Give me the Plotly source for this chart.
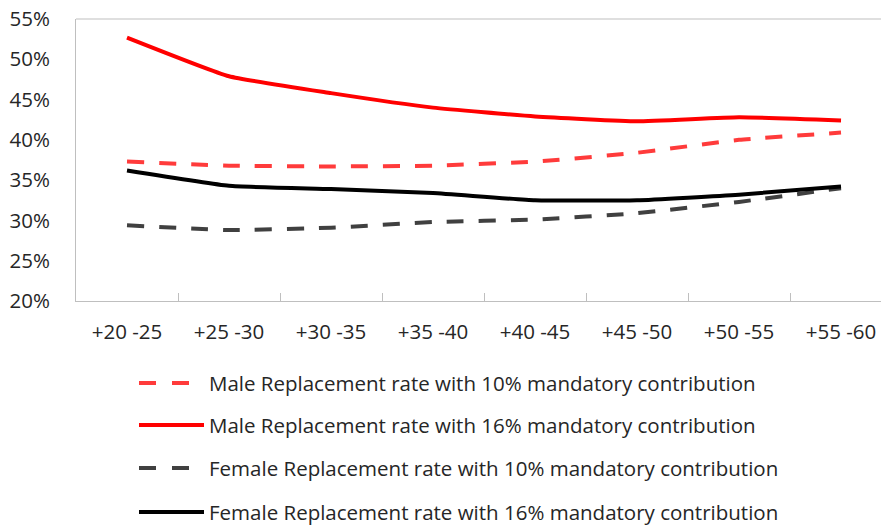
import plotly.graph_objects as go

# Age bands of contribution start
age_bands = ["+20 -25", "+25 -30", "+30 -35", "+35 -40", "+40 -45", "+45 -50", "+50 -55", "+55 -60"]

# Replacement rates (%)
male_10 = [37.3, 36.8, 36.7, 36.8, 37.3, 38.4, 40.0, 40.9]
male_16 = [52.7, 47.9, 45.8, 44.0, 42.9, 42.3, 42.8, 42.4]
female_10 = [29.4, 28.8, 29.1, 29.8, 30.1, 30.9, 32.3, 34.0]
female_16 = [36.2, 34.3, 33.9, 33.4, 32.5, 32.5, 33.2, 34.2]

DASH = "17px,15px"
series = [
    ("Male Replacement rate with 10% mandatory contribution", male_10, "#ff3b3b", DASH),
    ("Male Replacement rate with 16% mandatory contribution", male_16, "#ff0000", "solid"),
    ("Female Replacement rate with 10% mandatory contribution", female_10, "#404040", DASH),
    ("Female Replacement rate with 16% mandatory contribution", female_16, "#000000", "solid"),
]

W, H = 881, 525
ML, MT, MB = 76, 19, 224
plot_w = W - ML
plot_h = H - MT - MB

fig = go.Figure()
for name, vals, color, dash in series:
    fig.add_trace(go.Scatter(
        x=age_bands,
        y=[v / 100 for v in vals],
        name=name,
        mode="lines",
        line=dict(color=color, width=4, dash=dash, shape="spline", smoothing=0.4),
        showlegend=False,
    ))

# Legend below the chart: line sample + label for each series
def px_x(px):
    return (px - ML) / plot_w

def px_y(py):
    return (H - MB - py) / plot_h

legend_rows = [383, 425, 468, 512]
shapes = [
    # top border of the plot area
    dict(type="line", xref="paper", yref="paper", x0=0, x1=1, y0=1, y1=1,
         line=dict(color="#bfbfbf", width=1)),
]
annotations = []
for (name, vals, color, dash), row in zip(series, legend_rows):
    x_end = 190 if dash != "solid" else 204
    shapes.append(dict(
        type="line", xref="paper", yref="paper",
        x0=px_x(139), x1=px_x(x_end), y0=px_y(row), y1=px_y(row),
        line=dict(color=color, width=4, dash="17px,16px" if dash != "solid" else "solid"),
    ))
    annotations.append(dict(
        xref="paper", yref="paper", x=px_x(207), y=px_y(row),
        xanchor="left", yanchor="middle", showarrow=False,
        text=name, font=dict(size=20.5, color="#262626"),
    ))

font_family = "Open Sans, Noto Sans, sans-serif"

fig.update_layout(
    width=W,
    height=H,
    margin=dict(l=ML, r=0, t=MT, b=MB, autoexpand=False),
    paper_bgcolor="white",
    plot_bgcolor="white",
    font=dict(family=font_family, size=20.5, color="#262626"),
    showlegend=False,
    xaxis=dict(
        type="category",
        range=[-0.5, 7.392],
        showgrid=False,
        showline=True,
        linecolor="#bfbfbf",
        linewidth=1,
        ticks="inside",
        ticklen=8,
        tickcolor="#bfbfbf",
        tickson="boundaries",
        ticklabelstandoff=12,
        tickfont=dict(size=20.5),
        zeroline=False,
    ),
    yaxis=dict(
        range=[0.20, 0.55],
        tickvals=[0.20, 0.25, 0.30, 0.35, 0.40, 0.45, 0.50, 0.55],
        tickformat=".0%",
        showgrid=False,
        showline=True,
        linecolor="#bfbfbf",
        linewidth=1,
        ticks="",
        ticklabelstandoff=21,
        tickfont=dict(size=20.5),
        zeroline=False,
    ),
    shapes=shapes,
    annotations=annotations,
)

fig.write_html("out.html")
